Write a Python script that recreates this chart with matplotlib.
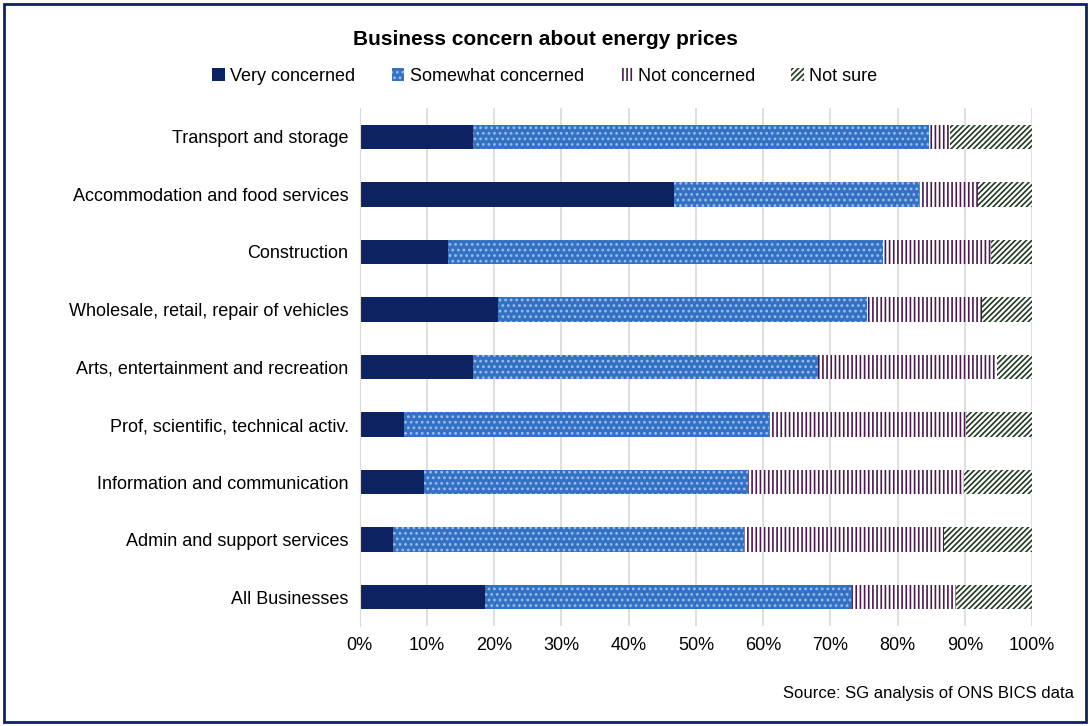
import numpy as np
import matplotlib.pyplot as plt
from matplotlib.patches import Rectangle

plt.rcParams['font.family'] = ['Liberation Sans', 'DejaVu Sans']
plt.rcParams['hatch.linewidth'] = 1.2

categories = ["Transport and storage", "Accommodation and food services", "Construction",
              "Wholesale, retail, repair of vehicles", "Arts, entertainment and recreation",
              "Prof, scientific, technical activ.", "Information and communication",
              "Admin and support services", "All Businesses"]
very = [16.9, 46.7, 13.2, 20.5, 16.8, 6.6, 9.5, 5.0, 18.7]
somewhat_end = [84.7, 83.2, 77.8, 75.5, 68.2, 60.8, 57.8, 57.2, 73.0]
not_conc_end = [87.8, 91.9, 93.8, 92.6, 94.8, 90.2, 89.9, 86.9, 88.7]

very = np.array(very)
somewhat = np.array(somewhat_end) - very
not_conc = np.array(not_conc_end) - np.array(somewhat_end)
not_sure = 100 - np.array(not_conc_end)

fig = plt.figure(figsize=(10.9, 7.26), dpi=100)
ax = fig.add_axes([0.33, 0.138, 0.617, 0.713])
y = np.arange(len(categories))
h = 0.42

ax.barh(y, very, h, color='#0D2260', label='Very concerned')
ax.barh(y, somewhat, h, left=very, color='#3371C4', hatch='...', edgecolor='#9DBDE8',
        linewidth=0, label='Somewhat concerned')
ax.barh(y, not_conc, h, left=np.array(somewhat_end), color='white', hatch='||||',
        edgecolor='#4A1A4E', linewidth=0, label='Not concerned')
ax.barh(y, not_sure, h, left=np.array(not_conc_end), color='white', hatch='//////',
        edgecolor='#1E3A1E', linewidth=0, label='Not sure')

ax.set_ylim(len(categories) - 0.5, -0.5)
ax.set_xlim(0, 100)
ax.set_xticks(np.arange(0, 101, 10))
ax.set_xticklabels([f"{v}%" for v in range(0, 101, 10)], fontsize=13)
ax.set_yticks(y)
ax.set_yticklabels(categories, fontsize=13)
ax.tick_params(length=0, pad=8)
ax.xaxis.grid(True, color='#D9D9D9', linewidth=1.2)
ax.set_axisbelow(True)
for s in ['top', 'right', 'bottom']:
    ax.spines[s].set_visible(False)
ax.spines['left'].set_color('#D9D9D9')

fig.text(0.5, 0.945, 'Business concern about energy prices', ha='center', va='center',
         fontsize=15, fontweight='bold')
fig.legend(loc='center', bbox_to_anchor=(0.5, 0.895), ncol=4, frameon=False, fontsize=13,
           handlelength=0.7, handleheight=0.7, handletextpad=0.3, columnspacing=2.0)
fig.text(0.985, 0.045, 'Source: SG analysis of ONS BICS data', ha='right', va='center', fontsize=12)
fig.add_artist(Rectangle((0.004, 0.006), 0.992, 0.988, transform=fig.transFigure,
                         fill=False, edgecolor='#0D2260', linewidth=2))

fig.savefig('out.png', dpi=100)
